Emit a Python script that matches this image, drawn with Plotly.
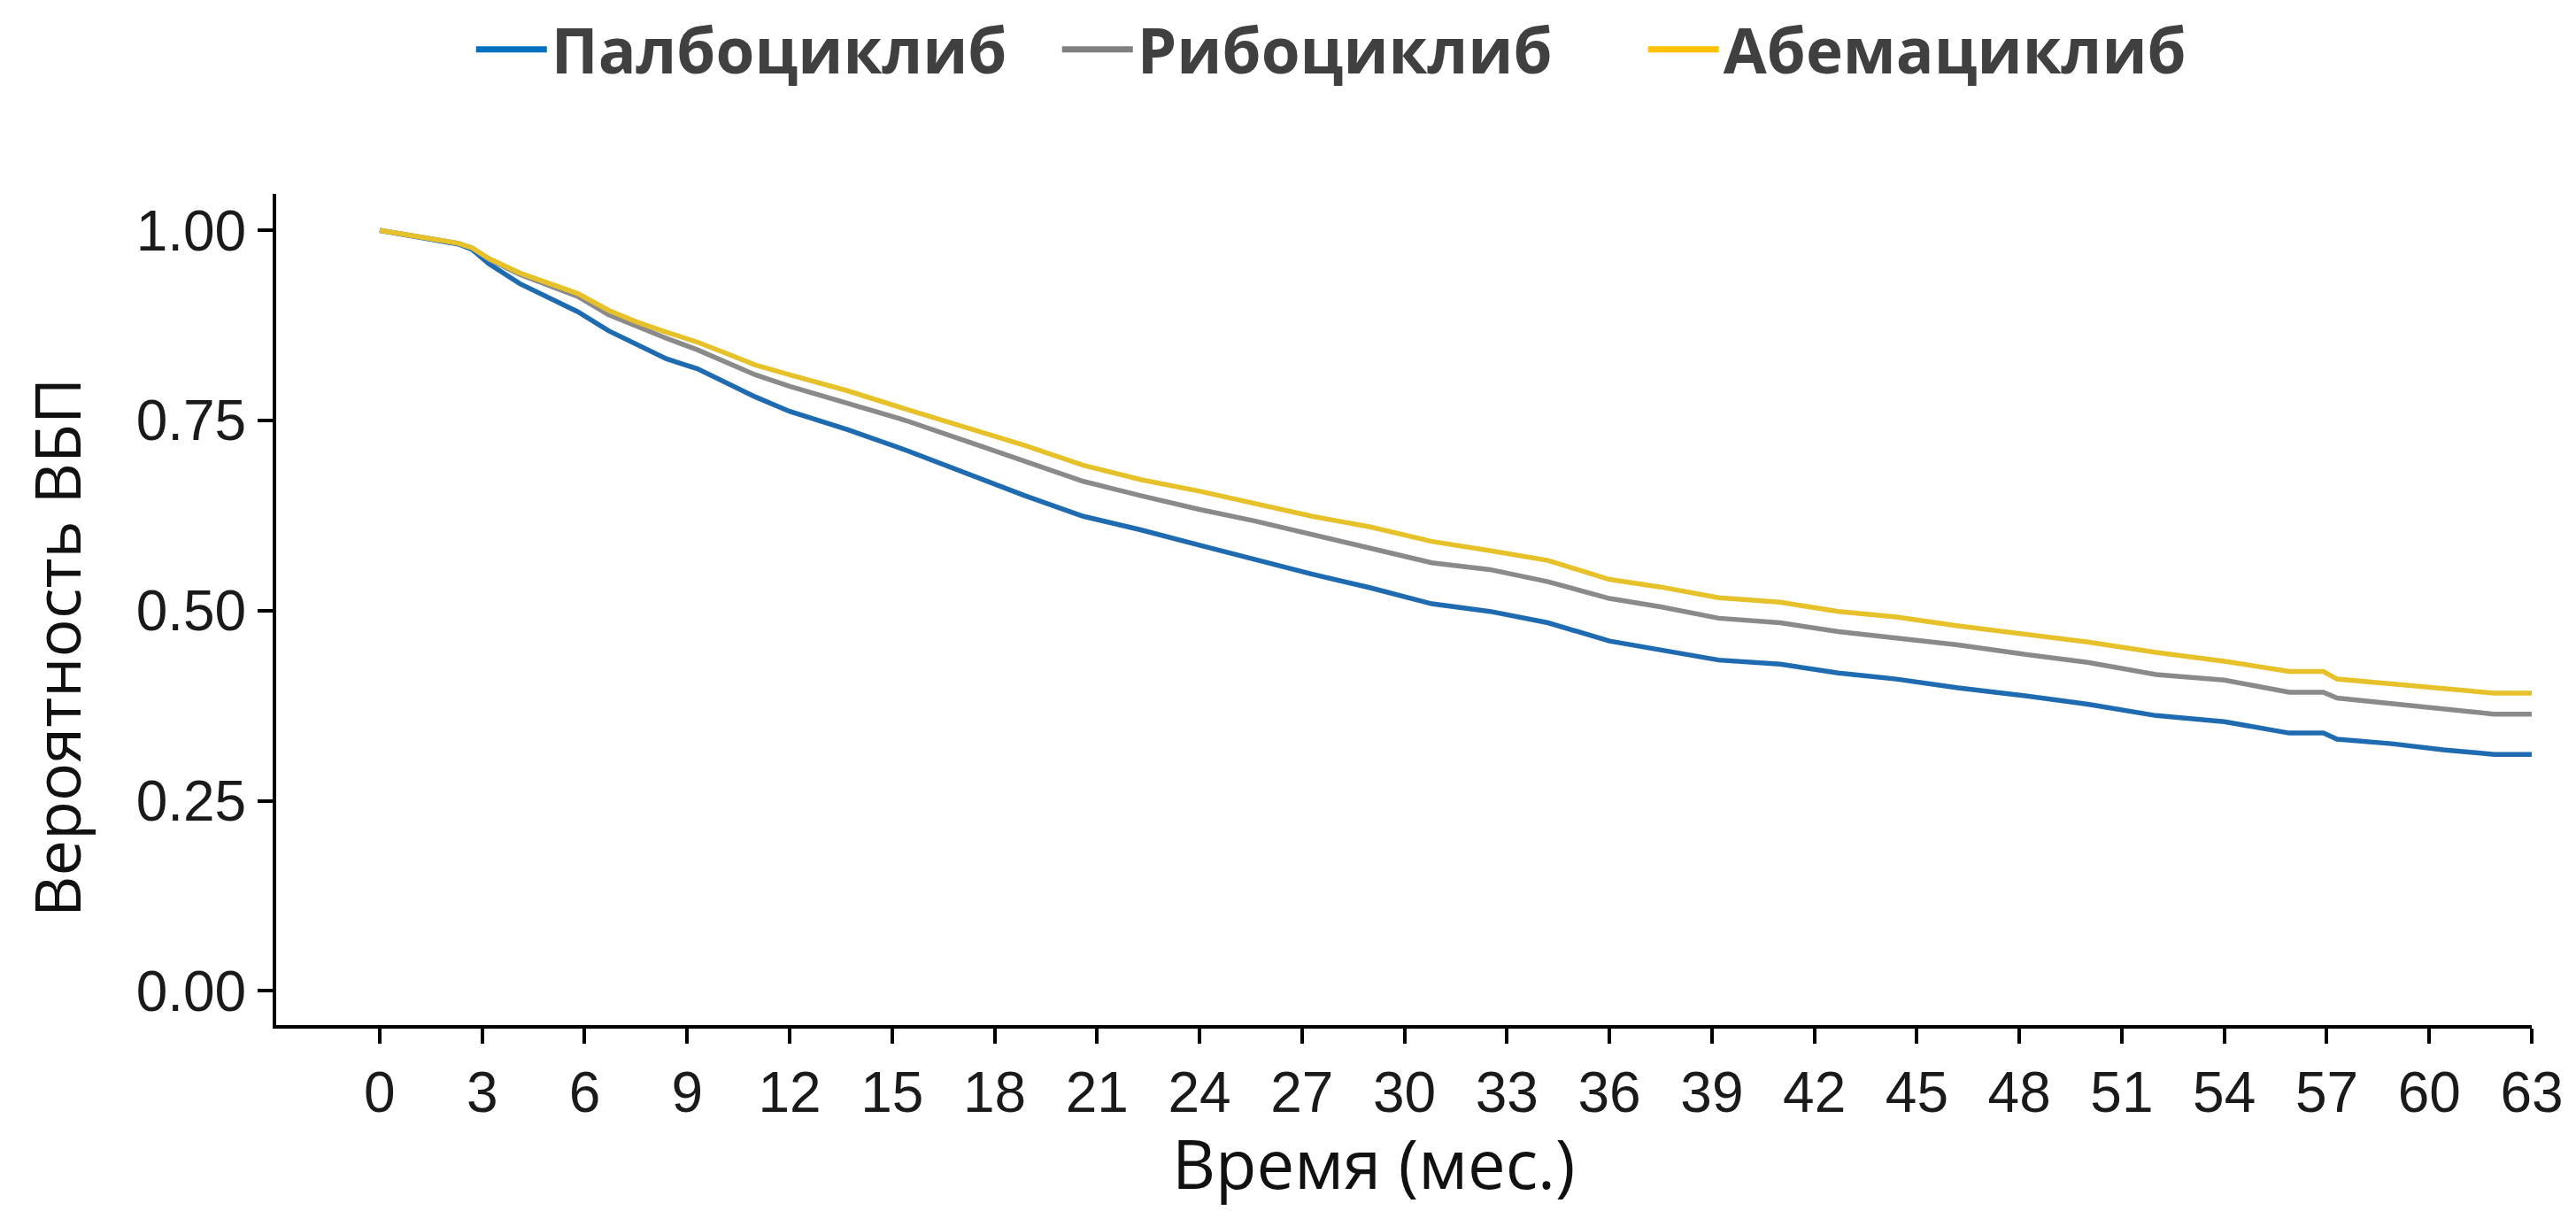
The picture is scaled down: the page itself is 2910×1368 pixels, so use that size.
import plotly.graph_objects as go

# ---- data ----
months = [0, 1, 2.3, 2.7, 3.2, 4.1, 5, 5.8, 6.7, 7.5,
          8.4, 9.3, 10.1, 11, 12, 13.7, 15.4, 17.1, 18.9, 20.6,
          22.3, 24, 25.6, 27.3, 29, 30.8, 32.5, 34.2, 36, 37.5,
          39.2, 41, 42.7, 44.4, 46.2, 48, 50, 52, 54, 55.9,
          56.9, 57.3, 58.9, 60.4, 61.9, 63]

palbo = [1.0, 0.992, 0.982, 0.975, 0.956, 0.930, 0.911, 0.893, 0.868, 0.851,
         0.831, 0.818, 0.800, 0.781, 0.762, 0.738, 0.711, 0.682, 0.651, 0.624,
         0.606, 0.586, 0.567, 0.548, 0.530, 0.509, 0.499, 0.484, 0.460, 0.449,
         0.435, 0.4295, 0.418, 0.410, 0.3985, 0.389, 0.377, 0.362, 0.354, 0.339,
         0.339, 0.331, 0.325, 0.317, 0.311, 0.311]

ribo = [1.0, 0.993, 0.983, 0.977, 0.962, 0.942, 0.927, 0.913, 0.889, 0.874,
        0.858, 0.843, 0.828, 0.810, 0.795, 0.773, 0.750, 0.724, 0.697, 0.670,
        0.651, 0.633, 0.618, 0.600, 0.583, 0.563, 0.554, 0.538, 0.516, 0.505,
        0.490, 0.484, 0.4725, 0.4645, 0.455, 0.4435, 0.432, 0.416, 0.4086, 0.3927,
        0.3927, 0.385, 0.378, 0.371, 0.364, 0.364]

abema = [1.0, 0.993, 0.983, 0.977, 0.963, 0.944, 0.930, 0.917, 0.895, 0.880,
         0.866, 0.853, 0.839, 0.823, 0.810, 0.789, 0.765, 0.742, 0.717, 0.691,
         0.672, 0.657, 0.641, 0.624, 0.610, 0.591, 0.579, 0.566, 0.541, 0.531,
         0.517, 0.511, 0.499, 0.4916, 0.480, 0.470, 0.4587, 0.445, 0.4335, 0.420,
         0.420, 0.410, 0.404, 0.397, 0.3915, 0.3915]

series_names = ["Палбоциклиб", "Рибоциклиб", "Абемациклиб"]
line_colors = ["#1F6BB2", "#8A8A8A", "#E6C12A"]
legend_colors = ["#0070C0", "#808080", "#FFC000"]

x_ticks = list(range(0, 64, 3))
y_ticks = [0.0, 0.25, 0.5, 0.75, 1.0]
y_tick_text = ["0.00", "0.25", "0.50", "0.75", "1.00"]

x_title = "Время (мес.)"
y_title = "Вероятность ВБП"

fig = go.Figure()

for name, ys, col in zip(series_names, [palbo, ribo, abema], line_colors):
    fig.add_trace(go.Scatter(x=months, y=ys, mode="lines", name=name,
                             line=dict(color=col, width=5.5), showlegend=False))

for name, col in zip(series_names, legend_colors):
    fig.add_trace(go.Scatter(x=[None], y=[None], mode="lines", name=name,
                             line=dict(color=col, width=7), showlegend=True))

tick_font = dict(family="Liberation Sans, Arial, sans-serif", size=64, color="#1a1a1a")
title_font = dict(family="Open Sans, sans-serif", size=76, color="#111111")

fig.update_layout(
    width=2902, height=1360,
    paper_bgcolor="white", plot_bgcolor="white",
    margin=dict(l=304, r=50, t=211, b=210, autoexpand=False),
    legend=dict(orientation="h", xref="container", yref="container",
                x=0.523, xanchor="center", y=0.9647, yanchor="middle",
                font=dict(family="Open Sans, sans-serif", size=71, color="#404040",
                          weight="bold"),
                itemwidth=80, entrywidth=567, bgcolor="rgba(0,0,0,0)"),
    xaxis=dict(range=[-3.03, 63], tickmode="array", tickvals=x_ticks,
               showgrid=False, zeroline=False, showline=True, linecolor="black",
               linewidth=4, ticks="outside", ticklen=17, tickwidth=4, tickcolor="black",
               tickfont=tick_font),
    yaxis=dict(range=[-0.045, 1.048], tickmode="array", tickvals=y_ticks,
               ticktext=y_tick_text,
               showgrid=False, zeroline=False, showline=True, linecolor="black",
               linewidth=4, ticks="outside", ticklen=17, tickwidth=4, tickcolor="black",
               tickfont=tick_font),
    annotations=[
        dict(text=x_title, xref="paper", yref="paper",
             x=(1551 - 312) / 2548, y=(1158 - 1313) / 939,
             xanchor="center", yanchor="middle", showarrow=False, font=title_font),
        dict(text=y_title, xref="paper", yref="paper", textangle=-90,
             x=(63 - 312) / 2548, y=(1158 - 732) / 939,
             xanchor="center", yanchor="middle", showarrow=False,
             font=dict(family="Open Sans, sans-serif", size=72, color="#111111")),
    ],
)

fig.write_html("out.html")
